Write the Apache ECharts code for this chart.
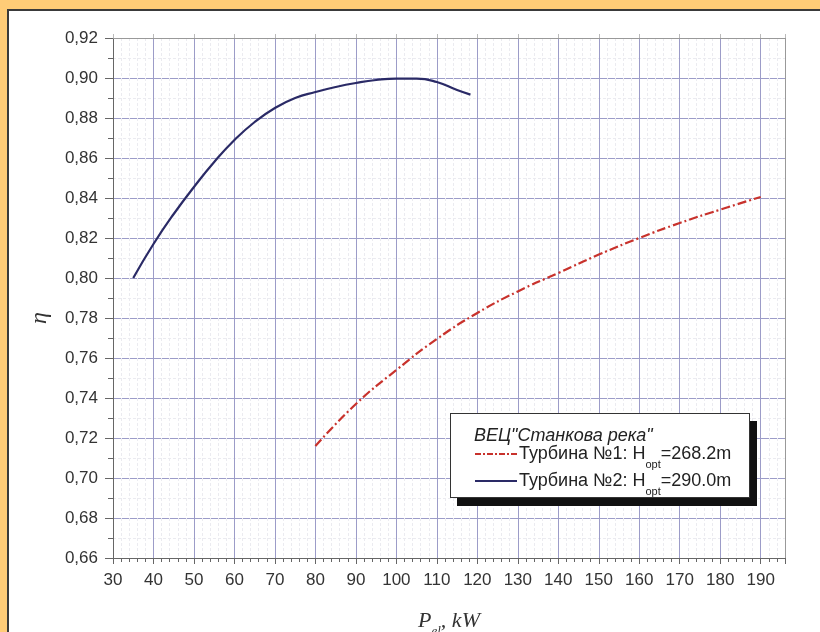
<!DOCTYPE html>
<html>
<head>
<meta charset="utf-8">
<script src="https://cdn.jsdelivr.net/npm/echarts@6/dist/echarts.min.js"></script>
<style>
  html, body { margin: 0; padding: 0; background: #FFCC77; }
  .panel { position: absolute; left: 7px; top: 9px; width: 813px; height: 623px;
           background: #fff; border-left: 2px solid #3a3a3a; border-top: 2px solid #3a3a3a; box-sizing: border-box; }
  #chart { position: absolute; left: 0; top: 0; width: 820px; height: 632px; }
</style>
</head>
<body>
<div class="panel"></div>
<div id="chart"></div>
<script>
// Turbine 1 (dash-dot red)
var powerT1 = [80, 90, 100, 110, 120, 130, 140, 150, 160, 170, 180, 190];
var etaT1 = [0.716, 0.737, 0.754, 0.7695, 0.7825, 0.7933, 0.8025, 0.8117, 0.820, 0.8275, 0.8342, 0.8405];

// Turbine 2 (solid navy)
var powerT2 = [35, 40, 45, 50, 55, 60, 65, 70, 75, 80, 85, 90, 95, 100, 105, 110, 115, 118.3];
var etaT2 = [0.800, 0.817, 0.832, 0.8455, 0.858, 0.869, 0.878, 0.885, 0.890, 0.893, 0.8955, 0.8975, 0.899, 0.8997, 0.8997, 0.898, 0.894, 0.8917];

var legendTitle = 'ВЕЦ"Станкова река"';
var nameT1 = 'Турбина №1: H{s|opt}=268.2m';
var nameT2 = 'Турбина №2: H{s|opt}=290.0m';

function zip(xs, ys) {
  var out = [];
  for (var i = 0; i < xs.length; i++) out.push([xs[i], ys[i]]);
  return out;
}

var myChart = echarts.init(document.getElementById('chart'));

var font = 'Liberation Sans, Arial, sans-serif';
var majorGrid = { show: true, lineStyle: { color: '#9c9cc8', width: 1 } };
var minorGrid = { show: true, lineStyle: { color: '#ebebf0', width: 1, type: [3, 2] } };
var subStyle = { fontFamily: font, fontSize: 11, fill: '#222', lineHeight: 32, verticalAlign: 'bottom' };

var option = {
  backgroundColor: 'transparent',
  animation: false,
  grid: { left: 113, top: 38, right: 35, bottom: 74, outerBoundsMode: 'none' },
  xAxis: [
    {
      type: 'value',
      min: 30,
      max: 196,
      interval: 10,
      name: '{i|P}{s|el}{i|, kW}',
      nameLocation: 'middle',
      nameGap: 46,
      nameTextStyle: {
        rich: {
          i: { fontFamily: 'Liberation Serif', fontStyle: 'italic', fontSize: 22, color: '#333' },
          s: { fontFamily: 'Liberation Serif', fontStyle: 'italic', fontSize: 13, color: '#333', lineHeight: 34, verticalAlign: 'bottom' }
        }
      },
      axisLine: { lineStyle: { color: '#666', width: 1 } },
      axisTick: { length: 6, lineStyle: { color: '#666' } },
      minorTick: { show: true, splitNumber: 5, length: 4, lineStyle: { color: '#666' } },
      axisLabel: {
        margin: 14,
        fontFamily: font,
        fontSize: 17,
        color: '#333',
        formatter: function (v) { return v % 10 === 0 ? String(v) : ''; }
      },
      splitLine: majorGrid,
      minorSplitLine: minorGrid
    },
    {
      type: 'value',
      position: 'top',
      min: 30,
      max: 196,
      interval: 10,
      axisLine: { show: true, lineStyle: { color: '#999' } },
      axisTick: { show: true, length: 4, lineStyle: { color: '#bbb' } },
      axisLabel: { show: false },
      splitLine: { show: false }
    }
  ],
  yAxis: [
    {
      type: 'value',
      min: 0.66,
      max: 0.92,
      interval: 0.02,
      axisLine: { show: true, lineStyle: { color: '#666', width: 1 } },
      axisTick: { show: true, length: 8, lineStyle: { color: '#666' } },
      minorTick: { show: true, splitNumber: 2, length: 5, lineStyle: { color: '#666' } },
      axisLabel: {
        margin: 15,
        fontFamily: font,
        fontSize: 17,
        color: '#333',
        formatter: function (v) { return v.toFixed(2).replace('.', ','); }
      },
      splitLine: majorGrid,
      minorSplitLine: minorGrid
    },
    {
      type: 'value',
      position: 'right',
      min: 0.66,
      max: 0.92,
      interval: 0.02,
      axisLine: { show: true, lineStyle: { color: '#999' } },
      axisTick: { show: false },
      axisLabel: { show: false },
      splitLine: { show: false }
    }
  ],
  graphic: [
    {
      type: 'text',
      left: 28,
      top: 312,
      rotation: Math.PI / 2,
      style: { text: 'η', fontFamily: 'Liberation Serif', fontStyle: 'italic', fontSize: 24, fill: '#333' }
    },
    {
      type: 'group',
      left: 450,
      top: 413,
      children: [
        // legend box drawn from fills only: shadow, border, inner white
        { type: 'rect', z: 100, shape: { x: 7, y: 8, width: 300, height: 85 }, style: { fill: '#111' } },
        { type: 'rect', z: 101, shape: { x: 0, y: 0, width: 300, height: 85 }, style: { fill: '#333' } },
        { type: 'rect', z: 102, shape: { x: 1, y: 1, width: 298, height: 83 }, style: { fill: '#fff' } },
        { type: 'text', z: 103, x: 24, y: 14, style: { text: legendTitle, fontFamily: font, fontStyle: 'italic', fontSize: 18, fill: '#222' } },
        { type: 'line', z: 103, shape: { x1: 25, y1: 41, x2: 67, y2: 41 }, style: { stroke: '#c8322c', lineWidth: 2, lineDash: [6, 2, 2, 2] } },
        {
          type: 'text', z: 103, x: 69, y: 41,
          style: { text: nameT1, fontFamily: font, fontSize: 18, fill: '#222', verticalAlign: 'middle', rich: { s: subStyle } }
        },
        { type: 'line', z: 103, shape: { x1: 25, y1: 68, x2: 67, y2: 68 }, style: { stroke: '#2a2a66', lineWidth: 2, lineDash: 'solid' } },
        {
          type: 'text', z: 103, x: 69, y: 68,
          style: { text: nameT2, fontFamily: font, fontSize: 18, fill: '#222', verticalAlign: 'middle', rich: { s: subStyle } }
        }
      ]
    }
  ],
  series: [
    {
      name: 'T1',
      type: 'line',
      smooth: true,
      showSymbol: false,
      lineStyle: { color: '#c8322c', width: 2.2, type: [9, 3, 2, 3] },
      data: zip(powerT1, etaT1)
    },
    {
      name: 'T2',
      type: 'line',
      smooth: true,
      showSymbol: false,
      lineStyle: { color: '#2a2a66', width: 2.2 },
      data: zip(powerT2, etaT2)
    }
  ]
};

myChart.setOption(option);
</script>
</body>
</html>
